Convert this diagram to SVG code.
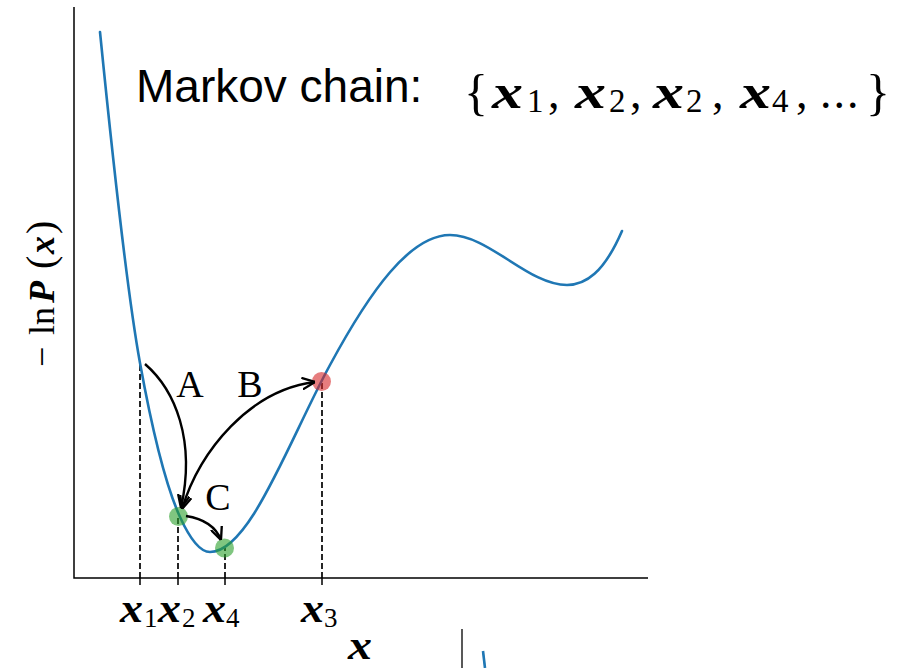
<svg xmlns="http://www.w3.org/2000/svg" width="912" height="668" viewBox="0 0 912 668">
<style>
.sans{font-family:"Liberation Sans",Arial,sans-serif;fill:#000}
.rm{font-family:"Liberation Serif","Times New Roman",serif;fill:#000}
.bi{font-family:"Liberation Serif","Times New Roman",serif;font-weight:bold;font-style:italic;fill:#000}
.spine{stroke:#000;stroke-width:1.5;fill:none}
.tick{stroke:#000;stroke-width:1.5}
.dash{stroke:#000;stroke-width:1.7;stroke-dasharray:6,3;fill:none}
.curve{stroke:#1f77b4;stroke-width:2.6;fill:none;stroke-linejoin:round;stroke-linecap:round}
.arrow{stroke:#000;stroke-width:2.4;fill:none}
.green{fill:#2ca02c;fill-opacity:0.6}
.red{fill:#d62728;fill-opacity:0.6}
</style>
<defs>
<marker id="head" viewBox="0 0 10 10" refX="10" refY="5" markerUnits="userSpaceOnUse" markerWidth="13" markerHeight="13" orient="auto-start-reverse">
<path d="M0,0.5 L10,5 L0,9.5" fill="none" stroke="#000" stroke-width="1.8"/>
</marker>
</defs>
<rect width="912" height="668" fill="#fff"/>

<g id="axes">
<path class="spine" d="M74,7 V578 H648"/>
<path class="tick" d="M140,578 V585 M178,578 V585 M225,578 V585 M322,578 V585"/>
</g>

<g id="guides">
<path class="dash" d="M140,578 V363"/>
<path class="dash" d="M178,578 V517"/>
<path class="dash" d="M225,578 V548"/>
<path class="dash" d="M322,578 V382"/>
</g>

<path id="energy-curve" class="curve" d="M100,32 C113.3,165 126.7,289.8 140,363 C153.3,436.3 166.7,487.7 180,517 C190,539 200,552 210,552 C250,552 290,438 330,365 C370,291 410,235 450,235 C489,235 528,285 567,285 C585.3,285 603.7,273.2 622,231"/>

<g id="node-x2"><circle class="green" cx="178.5" cy="516.5" r="9.5"/></g>
<g id="node-x4"><circle class="green" cx="224.5" cy="548" r="9.5"/></g>
<g id="node-x3"><circle class="red" cx="321.5" cy="381.5" r="9.5"/></g>

<g id="connectors">
<path class="arrow" d="M145,364 C175,390 196,440 181,508" marker-end="url(#head)"/>
<path class="arrow" d="M182,509 C200,450 250,390 315,382" marker-start="url(#head)" marker-end="url(#head)"/>
<path class="arrow" d="M186,516 C205,519 216,527 221,540" marker-end="url(#head)"/>
</g>

<g id="arrow-labels">
<text class="rm" x="190" y="397" font-size="38" text-anchor="middle">A</text>
<text class="rm" x="250" y="397" font-size="38" text-anchor="middle">B</text>
<text class="rm" x="218" y="510" font-size="38" text-anchor="middle">C</text>
</g>

<g id="title">
<text class="sans" x="136" y="102" font-size="46">Markov chain:</text>
<text class="rm" x="464" y="109" font-size="50">{</text>
<text class="bi" x="492" y="108" font-size="48" textLength="31" lengthAdjust="spacingAndGlyphs">x</text>
<text class="rm" x="527" y="112" font-size="33">1</text>
<text class="rm" x="548" y="108" font-size="46">,</text>
<text class="bi" x="575" y="108" font-size="48" textLength="31" lengthAdjust="spacingAndGlyphs">x</text>
<text class="rm" x="609" y="112" font-size="33">2</text>
<text class="rm" x="630" y="108" font-size="46">,</text>
<text class="bi" x="653" y="108" font-size="48" textLength="31" lengthAdjust="spacingAndGlyphs">x</text>
<text class="rm" x="686" y="112" font-size="33">2</text>
<text class="rm" x="712" y="108" font-size="46">,</text>
<text class="bi" x="740" y="108" font-size="48" textLength="31" lengthAdjust="spacingAndGlyphs">x</text>
<text class="rm" x="772" y="112" font-size="33">4</text>
<text class="rm" x="796" y="108" font-size="46">,</text>
<text class="rm" x="820" y="108" font-size="46" letter-spacing="2">...</text>
<text class="rm" x="866" y="109" font-size="50">}</text>
</g>

<g id="tick-labels">
<text class="bi" x="120" y="622" font-size="42" textLength="23" lengthAdjust="spacingAndGlyphs">x</text><text class="rm" x="144" y="627" font-size="27">1</text>
<text class="bi" x="158" y="622" font-size="42" textLength="23" lengthAdjust="spacingAndGlyphs">x</text><text class="rm" x="182" y="627" font-size="27">2</text>
<text class="bi" x="203" y="622" font-size="42" textLength="23" lengthAdjust="spacingAndGlyphs">x</text><text class="rm" x="226" y="627" font-size="27">4</text>
<text class="bi" x="301" y="622" font-size="42" textLength="23" lengthAdjust="spacingAndGlyphs">x</text><text class="rm" x="324" y="627" font-size="27">3</text>
<text class="bi" x="348" y="659" font-size="42" textLength="24" lengthAdjust="spacingAndGlyphs">x</text>
</g>

<g id="y-label">
<text class="rm" font-size="36" transform="translate(54,367) rotate(-90)"><tspan x="0">−</tspan><tspan x="32">ln</tspan><tspan x="64" class="bi">P</tspan><tspan x="98" font-size="40">(</tspan><tspan x="113" class="bi">x</tspan><tspan x="133" font-size="40">)</tspan></text>
</g>

<g id="next-panel-fragment">
<path d="M462,629 V668" stroke="#222" stroke-width="1.5"/>
<path d="M483,651 L485,668" stroke="#1f77b4" stroke-width="2.6"/>
</g>
</svg>
